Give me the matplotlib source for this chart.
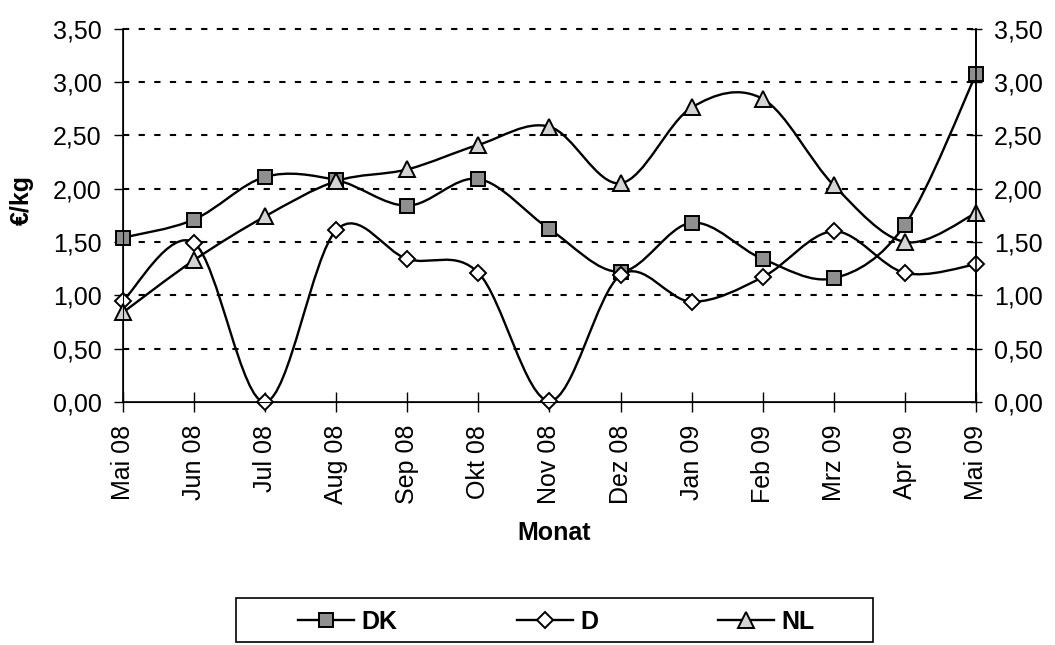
import matplotlib
matplotlib.use("Agg")
import matplotlib.pyplot as plt
from matplotlib.path import Path
from matplotlib.patches import PathPatch, Rectangle
from matplotlib.lines import Line2D
from matplotlib.ticker import FuncFormatter, MultipleLocator
import numpy as np

plt.rcParams['font.family'] = ['Liberation Sans', 'DejaVu Sans']

months = ['Mai 08', 'Jun 08', 'Jul 08', 'Aug 08', 'Sep 08', 'Okt 08', 'Nov 08',
          'Dez 08', 'Jan 09', 'Feb 09', 'Mrz 09', 'Apr 09', 'Mai 09']
dk = [1.54, 1.71, 2.11, 2.08, 1.84, 2.09, 1.62, 1.22, 1.68, 1.34, 1.16, 1.66, 3.07]
d = [0.95, 1.49, 0.00, 1.61, 1.34, 1.21, 0.01, 1.19, 0.94, 1.17, 1.60, 1.21, 1.29]
nl = [0.84, 1.33, 1.74, 2.07, 2.18, 2.41, 2.58, 2.05, 2.76, 2.84, 2.03, 1.50, 1.77]
series_names = ['DK', 'D', 'NL']
y_ticks = [0.0, 0.5, 1.0, 1.5, 2.0, 2.5, 3.0, 3.5]


def smooth_path(xs, ys):
    # Excel-style smoothed line: cubic bezier, control points from neighbours / 6
    p = np.column_stack([xs, ys]).astype(float)
    n = len(p)
    verts = [p[0]]
    codes = [Path.MOVETO]
    for i in range(n - 1):
        p0 = p[i - 1] if i > 0 else p[i]
        p3 = p[i + 2] if i + 2 < n else p[i + 1]
        c1 = p[i] + (p[i + 1] - p0) / 6.0
        c2 = p[i + 1] - (p3 - p[i]) / 6.0
        verts += [c1, c2, p[i + 1]]
        codes += [Path.CURVE4] * 3
    return Path(verts, codes)


fig = plt.figure(figsize=(10.55, 6.45), dpi=100)
ax = fig.add_axes([0.1166, 0.3767, 0.8085, 0.5791])

x = np.arange(len(months))
styles = [
    dict(marker='s', markersize=10, markerfacecolor='#8f8f8f'),
    dict(marker='D', markersize=8, markerfacecolor='white'),
    dict(marker='^', markersize=11, markerfacecolor='#d4d4d4'),
]

for vals, st in zip([dk, d, nl], styles):
    ax.add_patch(PathPatch(smooth_path(x, vals), fill=False, edgecolor='black',
                           lw=1.7, zorder=3))
    ax.plot(x, vals, linestyle='none', markeredgecolor='black',
            markeredgewidth=1.4, zorder=4, clip_on=False, **st)

# dashed gridlines (0 is the axis itself)
for yv in y_ticks[1:]:
    ax.axhline(yv, color='black', lw=1.5, linestyle=(0, (3, 4.5)), zorder=1,
               clip_on=False)

ax.set_xlim(0, len(months) - 1)
ax.set_ylim(0, 3.5)
ax.set_xticks(x)
ax.set_xticklabels(months, rotation=90, fontsize=18)
ax.yaxis.set_major_locator(MultipleLocator(0.5))
fmt = FuncFormatter(lambda v, pos: f"{v:.2f}".replace('.', ','))
ax.yaxis.set_major_formatter(fmt)
ax.tick_params(axis='y', direction='out', length=6.5, width=1, pad=9,
               labelsize=18)
ax.tick_params(axis='x', direction='inout', length=14, width=1, pad=9.5)

for side in ['left', 'bottom', 'right']:
    ax.spines[side].set_linewidth(1.2)
ax.spines['top'].set_visible(False)

ax2 = ax.twinx()
ax2.set_ylim(0, 3.5)
ax2.yaxis.set_major_locator(MultipleLocator(0.5))
ax2.yaxis.set_major_formatter(fmt)
ax2.tick_params(axis='y', direction='inout', length=8, width=1, pad=9,
                labelsize=18)
ax2.spines['top'].set_visible(False)
ax2.spines['right'].set_linewidth(1.2)

ax.set_xlabel('Monat', fontsize=18, fontweight='bold')
ax.xaxis.set_label_coords(0.505, -0.318)
ax.xaxis.label.set_va('top')
fig.text(0.0205, 0.69, '€/kg', rotation=90, ha='center', va='center',
         fontsize=18, fontweight='bold')

handles = [Line2D([], [], color='black', lw=1.7, markeredgecolor='black',
                  markeredgewidth=1.4, **st) for st in styles]
fig.legend(handles, series_names, loc='center', ncol=3,
           bbox_to_anchor=(0.5275, 0.0357), frameon=False, borderpad=0,
           handlelength=2.24, handletextpad=0.28, columnspacing=4.8,
           prop=dict(size=18, weight='bold'))
fig.add_artist(Rectangle((0.2237, 0.004), 0.6038, 0.0687,
                         transform=fig.transFigure, fill=False,
                         edgecolor='black', lw=1.2))

fig.savefig('out.png', dpi=100)
